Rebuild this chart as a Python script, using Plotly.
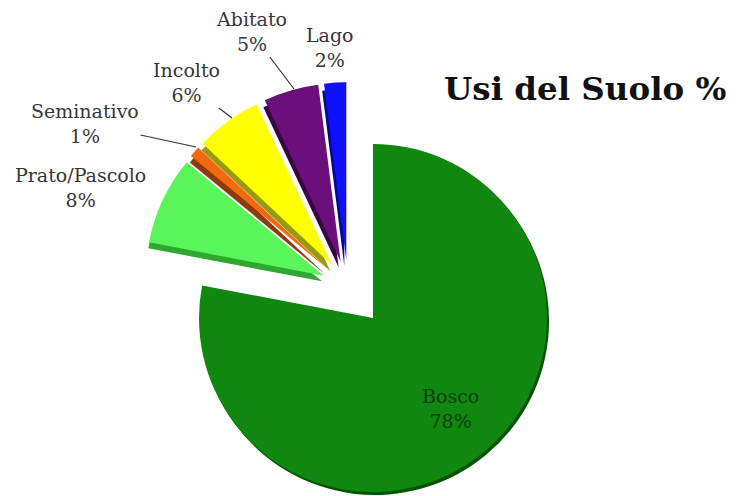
import plotly.graph_objects as go

# land-use shares (%), clockwise from 12 o'clock
labels = ["Bosco", "Prato/Pascolo", "Seminativo", "Incolto", "Abitato", "Lago"]
values = [78, 8, 1, 6, 5, 2]
topColors = ["#108810", "#5af55a", "#f26a10", "#ffff00", "#6b0f7a", "#1010ff"]
sideColors = ["#065206", "#2fa82f", "#8c3a08", "#9a9a10", "#3a0545", "#08088a"]
chartTitle = "Usi del Suolo %"

# the page body has an 8px margin, so the figure is a bit smaller than the window
OFF = 8
W, H = 741 - OFF, 496 - OFF
CLEAR = "rgba(0,0,0,0)"
PULL = 0.15
textColor = "#363636"
fontFamily = "DejaVu Serif"


def px(x):
    return (x - OFF) / W


def py(y):
    return 1 - (y - OFF) / H


def domX(cx, half):
    return [max(0, px(cx - half)), min(1, px(cx + half))]


def domY(cy, half):
    return [max(0, py(cy + half)), min(1, py(cy - half))]


def pieTrace(colors, cx, cy, half, pull):
    """one pie layer, the Bosco slice and the exploded slices are drawn as separate layers"""
    return go.Pie(
        labels=labels,
        values=values,
        sort=False,
        direction="clockwise",
        rotation=0,
        pull=pull,
        marker=dict(colors=colors, line=dict(width=0)),
        domain=dict(x=domX(cx, half), y=domY(cy, half)),
        textinfo="none",
        hoverinfo="label+percent",
        showlegend=False,
    )


# main slice (Bosco) and the exploded ones
boscoOnly = [c if i == 0 else CLEAR for i, c in enumerate(topColors)]
boscoSide = [c if i == 0 else CLEAR for i, c in enumerate(sideColors)]
restOnly = [CLEAR if i == 0 else c for i, c in enumerate(topColors)]
restSide = [CLEAR if i == 0 else c for i, c in enumerate(sideColors)]
pulls = [0] + [PULL] * (len(values) - 1)

r1 = 174
r2 = 178
fig = go.Figure()
fig.add_trace(pieTrace(boscoSide, 375, 321, r1, 0))
fig.add_trace(pieTrace(restSide, 346, 294, r2 * (1 + PULL), pulls))
fig.add_trace(pieTrace(boscoOnly, 373, 318, r1, 0))
fig.add_trace(pieTrace(restOnly, 348, 287, r2 * (1 + PULL), pulls))

# labels: text centre (window px) and the point a leader line goes to, if any
labelPos = {
    "Bosco": (450, 408, None),
    "Prato/Pascolo": (80, 187, None),
    "Seminativo": (85, 123, (196, 147)),
    "Incolto": (186, 83, (232, 118)),
    "Abitato": (251, 32, (294, 89)),
    "Lago": (330, 47, None),
}
for lab, val in zip(labels, values):
    tx, ty, target = labelPos[lab]
    txt = lab + "<br>" + str(val) + "%"
    col = "#0b3d0b" if lab == "Bosco" else textColor
    font = dict(family=fontFamily, size=19, color=col)
    if target is None:
        fig.add_annotation(x=px(tx), y=py(ty), xref="paper", yref="paper",
                           xanchor="center", yanchor="middle",
                           text=txt, showarrow=False, font=font)
    else:
        fig.add_annotation(x=px(target[0]), y=py(target[1]), xref="paper", yref="paper",
                           ax=tx - target[0], ay=ty - target[1],
                           text=txt, showarrow=True, arrowhead=0, arrowwidth=1.2,
                           arrowcolor="#333333", font=font)

fig.update_layout(
    width=W,
    height=H,
    margin=dict(l=0, r=0, t=0, b=0),
    paper_bgcolor="white",
    plot_bgcolor="white",
    title=dict(text="<b>" + chartTitle + "</b>", x=px(444), xanchor="left",
               y=py(89), yanchor="middle",
               font=dict(family=fontFamily, size=32.5, color="#111111")),
)

fig.write_html("out.html")
